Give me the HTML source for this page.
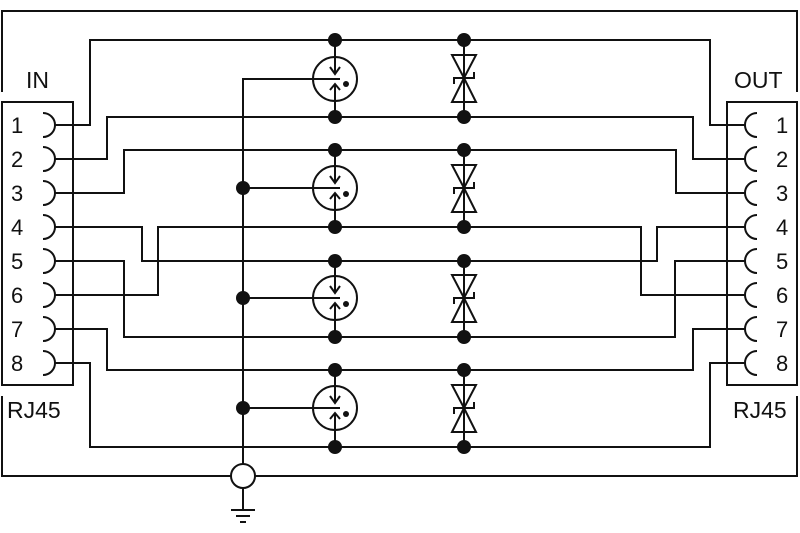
<!DOCTYPE html>
<html><head><meta charset="utf-8"><style>html,body{margin:0;padding:0;background:#fff}svg{display:block}</style></head>
<body>
<svg width="800" height="533" viewBox="0 0 800 533" xmlns="http://www.w3.org/2000/svg" font-family="Liberation Sans, sans-serif" font-size="23" fill="none" stroke="#111" stroke-width="2">
<path d="M2,92 V11 H797 V92"/>
<path d="M2,396 V476 H797 V396"/>
<path d="M2,102 H73 V385 H2 Z"/>
<path d="M727,102 H797 V385 H727 Z"/>
<g fill="#111" stroke="none">
<text x="26" y="88">IN</text>
<text x="734" y="88">OUT</text>
<text x="7" y="418">RJ45</text>
<text x="733" y="418">RJ45</text>
<g font-size="22">
<text x="11" y="133">1</text><text x="11" y="167">2</text><text x="11" y="201">3</text><text x="11" y="235">4</text>
<text x="11" y="269">5</text><text x="11" y="303">6</text><text x="11" y="337">7</text><text x="11" y="371">8</text>
<text x="776" y="133">1</text><text x="776" y="167">2</text><text x="776" y="201">3</text><text x="776" y="235">4</text>
<text x="776" y="269">5</text><text x="776" y="303">6</text><text x="776" y="337">7</text><text x="776" y="371">8</text>
</g>
</g>
<g>
<path d="M43,113 A12,12 0 0 1 43,137"/><path d="M43,147 A12,12 0 0 1 43,171"/>
<path d="M43,181 A12,12 0 0 1 43,205"/><path d="M43,215 A12,12 0 0 1 43,239"/>
<path d="M43,249 A12,12 0 0 1 43,273"/><path d="M43,283 A12,12 0 0 1 43,307"/>
<path d="M43,317 A12,12 0 0 1 43,341"/><path d="M43,351 A12,12 0 0 1 43,375"/>
<path d="M757,113 A12,12 0 0 0 757,137"/><path d="M757,147 A12,12 0 0 0 757,171"/>
<path d="M757,181 A12,12 0 0 0 757,205"/><path d="M757,215 A12,12 0 0 0 757,239"/>
<path d="M757,249 A12,12 0 0 0 757,273"/><path d="M757,283 A12,12 0 0 0 757,307"/>
<path d="M757,317 A12,12 0 0 0 757,341"/><path d="M757,351 A12,12 0 0 0 757,375"/>
</g>
<path d="M55,125 H90 V40 H710 V125 H745"/>
<path d="M55,159 H107 V117 H693 V159 H745"/>
<path d="M55,193 H124 V150 H676 V193 H745"/>
<path d="M55,227 H142 V261 H657 V227 H745"/>
<path d="M55,295 H158 V227 H641 V295 H745"/>
<path d="M55,261 H124 V337 H675 V261 H745"/>
<path d="M55,329 H107 V370 H693 V329 H745"/>
<path d="M55,363 H90 V447 H710 V363 H745"/>
<path d="M243,464 V79 H340"/>
<path d="M243,188 H340 M243,298 H340 M243,408 H340"/>
<circle cx="243" cy="476" r="12" fill="#fff"/>
<path d="M243,488 V509 M231,510 H255 M236,516 H250 M240,522 H246"/>
<g fill="#111" stroke="none">
<circle cx="243" cy="188" r="7"/><circle cx="243" cy="298" r="7"/><circle cx="243" cy="408" r="7"/>
<circle cx="335" cy="40" r="7"/><circle cx="335" cy="117" r="7"/><circle cx="335" cy="150" r="7"/><circle cx="335" cy="227" r="7"/>
<circle cx="335" cy="261" r="7"/><circle cx="335" cy="337" r="7"/><circle cx="335" cy="370" r="7"/><circle cx="335" cy="447" r="7"/>
<circle cx="464" cy="40" r="7"/><circle cx="464" cy="117" r="7"/><circle cx="464" cy="150" r="7"/><circle cx="464" cy="227" r="7"/>
<circle cx="464" cy="261" r="7"/><circle cx="464" cy="337" r="7"/><circle cx="464" cy="370" r="7"/><circle cx="464" cy="447" r="7"/>
<circle cx="346" cy="84" r="3"/><circle cx="346" cy="194" r="3"/><circle cx="346" cy="304" r="3"/><circle cx="346" cy="414" r="3"/>
</g>
<g>
<circle cx="335" cy="79" r="22"/><path d="M335,40 V74 M330,67 L335,74 L340,67 M335,117 V84 M330,90 L335,84 L340,90"/>
<circle cx="335" cy="188" r="22"/><path d="M335,150 V183 M330,176 L335,183 L340,176 M335,227 V193 M330,199 L335,193 L340,199"/>
<circle cx="335" cy="298" r="22"/><path d="M335,261 V293 M330,286 L335,293 L340,286 M335,337 V303 M330,309 L335,303 L340,309"/>
<circle cx="335" cy="408" r="22"/><path d="M335,370 V403 M330,396 L335,403 L340,396 M335,447 V413 M330,419 L335,413 L340,419"/>
<path d="M464,40 V117 M452,55 H476 L464,78 Z M452,102 H476 L464,78 Z M454,84 V78 H474 V72"/>
<path d="M464,150 V227 M452,165 H476 L464,188 Z M452,212 H476 L464,188 Z M454,194 V188 H474 V182"/>
<path d="M464,261 V337 M452,275 H476 L464,298 Z M452,322 H476 L464,298 Z M454,304 V298 H474 V292"/>
<path d="M464,370 V447 M452,385 H476 L464,408 Z M452,432 H476 L464,408 Z M454,414 V408 H474 V402"/>
</g>
</svg>
</body></html>
